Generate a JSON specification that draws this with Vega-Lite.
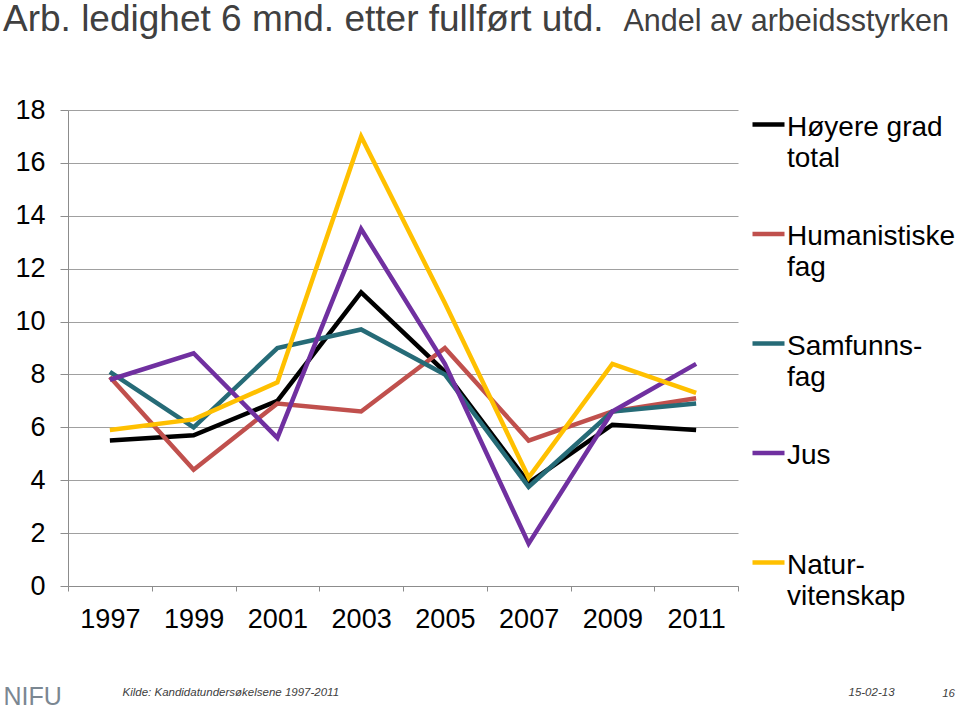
{
  "$schema": "https://vega.github.io/schema/vega-lite/v6.json",
  "autosize": "none",
  "width": 670,
  "height": 476,
  "padding": {"left": 68, "top": 110, "right": 222, "bottom": 124},
  "background": "white",
  "config": {
    "font": "Liberation Sans",
    "view": {"stroke": null}
  },
  "title": {
    "text": "Arb. ledighet 6 mnd. etter fullført utd.",
    "anchor": "start",
    "frame": "group",
    "dx": -65,
    "dy": 52,
    "fontSize": 37,
    "fontWeight": "normal",
    "color": "#404040",
    "baseline": "alphabetic",
    "offset": -10
  },
  "data": {
    "values": [
      {"year": "1997", "series": "Høyere grad total", "value": 5.5},
      {"year": "1999", "series": "Høyere grad total", "value": 5.7},
      {"year": "2001", "series": "Høyere grad total", "value": 7.0},
      {"year": "2003", "series": "Høyere grad total", "value": 11.1},
      {"year": "2005", "series": "Høyere grad total", "value": 8.1},
      {"year": "2007", "series": "Høyere grad total", "value": 3.9},
      {"year": "2009", "series": "Høyere grad total", "value": 6.1},
      {"year": "2011", "series": "Høyere grad total", "value": 5.9},
      {"year": "1997", "series": "Humanistiske fag", "value": 7.9},
      {"year": "1999", "series": "Humanistiske fag", "value": 4.4},
      {"year": "2001", "series": "Humanistiske fag", "value": 6.9},
      {"year": "2003", "series": "Humanistiske fag", "value": 6.6},
      {"year": "2005", "series": "Humanistiske fag", "value": 9.0},
      {"year": "2007", "series": "Humanistiske fag", "value": 5.5},
      {"year": "2009", "series": "Humanistiske fag", "value": 6.6},
      {"year": "2011", "series": "Humanistiske fag", "value": 7.1},
      {"year": "1997", "series": "Samfunnsfag", "value": 8.1},
      {"year": "1999", "series": "Samfunnsfag", "value": 6.0},
      {"year": "2001", "series": "Samfunnsfag", "value": 9.0},
      {"year": "2003", "series": "Samfunnsfag", "value": 9.7},
      {"year": "2005", "series": "Samfunnsfag", "value": 8.0},
      {"year": "2007", "series": "Samfunnsfag", "value": 3.75},
      {"year": "2009", "series": "Samfunnsfag", "value": 6.6},
      {"year": "2011", "series": "Samfunnsfag", "value": 6.9},
      {"year": "1997", "series": "Jus", "value": 7.8},
      {"year": "1999", "series": "Jus", "value": 8.8},
      {"year": "2001", "series": "Jus", "value": 5.6},
      {"year": "2003", "series": "Jus", "value": 13.5},
      {"year": "2005", "series": "Jus", "value": 8.4},
      {"year": "2007", "series": "Jus", "value": 1.6},
      {"year": "2009", "series": "Jus", "value": 6.6},
      {"year": "2011", "series": "Jus", "value": 8.4},
      {"year": "1997", "series": "Naturvitenskap", "value": 5.9},
      {"year": "1999", "series": "Naturvitenskap", "value": 6.3},
      {"year": "2001", "series": "Naturvitenskap", "value": 7.7},
      {"year": "2003", "series": "Naturvitenskap", "value": 17.0},
      {"year": "2005", "series": "Naturvitenskap", "value": 10.7},
      {"year": "2007", "series": "Naturvitenskap", "value": 4.1},
      {"year": "2009", "series": "Naturvitenskap", "value": 8.4},
      {"year": "2011", "series": "Naturvitenskap", "value": 7.3}
    ]
  },
  "layer": [
    {
      "mark": {"type": "line", "strokeWidth": 4.5, "strokeJoin": "miter", "strokeCap": "butt"},
      "encoding": {
        "x": {
          "field": "year",
          "type": "ordinal",
          "bandPosition": 0.5,
          "scale": {"type": "band", "paddingInner": 0, "paddingOuter": 0},
          "axis": {
            "tickBand": "extent",
            "labelAngle": 0,
            "labelFontSize": 27,
            "labelColor": "#000000",
            "labelPadding": 15,
            "tickSize": 5,
            "tickColor": "#8c8c8c",
            "domainColor": "#8c8c8c",
            "grid": false,
            "title": "Kilde: Kandidatundersøkelsene 1997-2011",
            "titleX": 54,
            "titleY": 109,
            "titleAlign": "left",
            "titleBaseline": "alphabetic",
            "titleFontSize": 11.5,
            "titleFontStyle": "italic",
            "titleFontWeight": "normal",
            "titleColor": "#404040"
          }
        },
        "y": {
          "field": "value",
          "type": "quantitative",
          "scale": {"domain": [0, 18], "nice": false},
          "axis": {
            "values": [0, 2, 4, 6, 8, 10, 12, 14, 16, 18],
            "labelFontSize": 27,
            "labelColor": "#000000",
            "labelPadding": 15,
            "tickSize": 8,
            "tickColor": "#8c8c8c",
            "domainColor": "#8c8c8c",
            "gridColor": "#a0a0a0",
            "gridWidth": 1,
            "title": "Andel av arbeidsstyrken",
            "titleAngle": 0,
            "titleX": 555,
            "titleY": -80,
            "titleAlign": "left",
            "titleBaseline": "alphabetic",
            "titleFontSize": 30.5,
            "titleFontWeight": "normal",
            "titleColor": "#404040"
          }
        },
        "color": {
          "field": "series",
          "type": "nominal",
          "scale": {
            "domain": ["Høyere grad total", "Humanistiske fag", "Samfunnsfag", "Jus", "Naturvitenskap"],
            "range": ["#000000", "#C0504D", "#266B77", "#7030A0", "#FFC000"]
          },
          "legend": {
            "title": "16",
            "titleOrient": "bottom",
            "titleAnchor": "end",
            "titlePadding": 77,
            "titleFontSize": 11.5,
            "titleFontStyle": "italic",
            "titleFontWeight": "normal",
            "titleColor": "#404040",
            "orient": "none",
            "legendX": 682,
            "legendY": -4,
            "padding": 0,
            "symbolType": "stroke",
            "symbolSize": 1024,
            "symbolStrokeWidth": 4.5,
            "labelFontSize": 28,
            "labelColor": "#000000",
            "labelOffset": 0,
            "labelLimit": 300,
            "labelBaseline": "top",
            "rowPadding": 42.5,
            "encode": {
              "labels": {"update": {"dy": {"value": -11}, "lineHeight": {"value": 31}}}
            },
            "labelExpr": "datum.label == 'Høyere grad total' ? ['Høyere grad', 'total'] : datum.label == 'Humanistiske fag' ? ['Humanistiske', 'fag'] : datum.label == 'Samfunnsfag' ? ['Samfunns-', 'fag'] : datum.label == 'Naturvitenskap' ? ['Natur-', 'vitenskap'] : [datum.label, ' ']"
          }
        }
      }
    },
    {
      "mark": {"type": "point", "opacity": 0},
      "encoding": {
        "x": {
          "field": "year",
          "type": "ordinal",
          "axis": {
            "orient": "top",
            "labels": false,
            "ticks": false,
            "domain": false,
            "grid": false,
            "title": "NIFU",
            "titleX": -65,
            "titleY": 594,
            "titleAlign": "left",
            "titleBaseline": "alphabetic",
            "titleFontSize": 25,
            "titleFontWeight": "normal",
            "titleColor": "#7b8792"
          }
        },
        "y": {
          "field": "value",
          "type": "quantitative",
          "axis": {
            "orient": "right",
            "labels": false,
            "ticks": false,
            "domain": false,
            "grid": false,
            "title": "15-02-13",
            "titleAngle": 0,
            "titleX": 110,
            "titleY": 585,
            "titleAlign": "left",
            "titleBaseline": "alphabetic",
            "titleFontSize": 11.5,
            "titleFontStyle": "italic",
            "titleFontWeight": "normal",
            "titleColor": "#404040"
          }
        }
      }
    }
  ],
  "resolve": {
    "scale": {"x": "independent", "y": "independent"},
    "axis": {"x": "independent", "y": "independent"}
  }
}
